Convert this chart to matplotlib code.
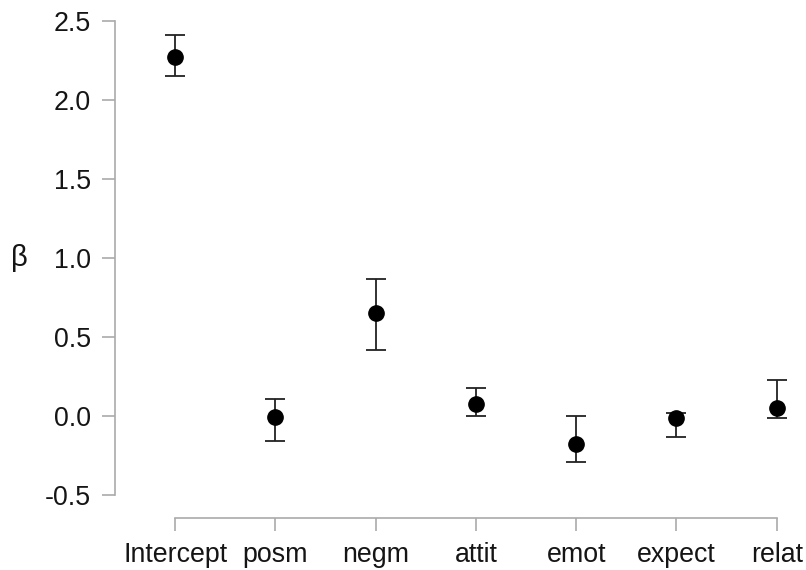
import numpy as np
import matplotlib
matplotlib.use("Agg")
import matplotlib.pyplot as plt
import matplotlib.transforms as mtransforms

# coefficient estimates with lower / upper interval bounds
terms = ["Intercept", "posm", "negm", "attit", "emot", "expect", "relat"]
beta = [2.27, -0.005, 0.65, 0.074, -0.175, -0.015, 0.049]
lower = [2.15, -0.16, 0.42, 0.0, -0.29, -0.13, -0.01]
upper = [2.41, 0.105, 0.87, 0.18, 0.0, 0.017, 0.23]

plt.rcParams["font.family"] = ["Liberation Sans", "DejaVu Sans"]

fig = plt.figure(figsize=(8.06, 5.70), dpi=100)
ax = fig.add_axes([0.1427, 0.0912, 0.976 - 0.1427, 0.977 - 0.0912])

x = np.arange(len(terms))
beta = np.array(beta)
err = np.vstack([beta - np.array(lower), np.array(upper) - beta])

ax.errorbar(x, beta, yerr=err, fmt="o", color="black", ecolor="#222222",
            elinewidth=1.3, capsize=7, capthick=1.3, markersize=11, zorder=3)

ax.set_xlim(-0.6, 6.1)
ax.set_ylim(-0.6456, 2.55)

for side in ["top", "right"]:
    ax.spines[side].set_visible(False)
for side in ["left", "bottom"]:
    ax.spines[side].set_color("#aaaaaa")
    ax.spines[side].set_linewidth(1.2)
ax.spines["left"].set_bounds(-0.5, 2.5)
ax.spines["bottom"].set_bounds(0, 6)

ax.set_yticks([-0.5, 0.0, 0.5, 1.0, 1.5, 2.0, 2.5])
ax.set_yticklabels(["-0.5", "0.0", "0.5", "1.0", "1.5", "2.0", "2.5"])
ax.set_xticks(x)
ax.set_xticklabels(terms)
ax.tick_params(axis="both", direction="out", length=9.5, width=1.2,
               color="#aaaaaa", labelsize=19.3, labelcolor="#151515", pad=8)

ax.set_ylabel("β", rotation=0, fontsize=21, color="#151515")
ax.yaxis.set_label_coords(-0.142, 1.0,
                          transform=mtransforms.blended_transform_factory(ax.transAxes, ax.transData))
ax.yaxis.label.set_verticalalignment("center")

fig.savefig("out.png", dpi=100)
